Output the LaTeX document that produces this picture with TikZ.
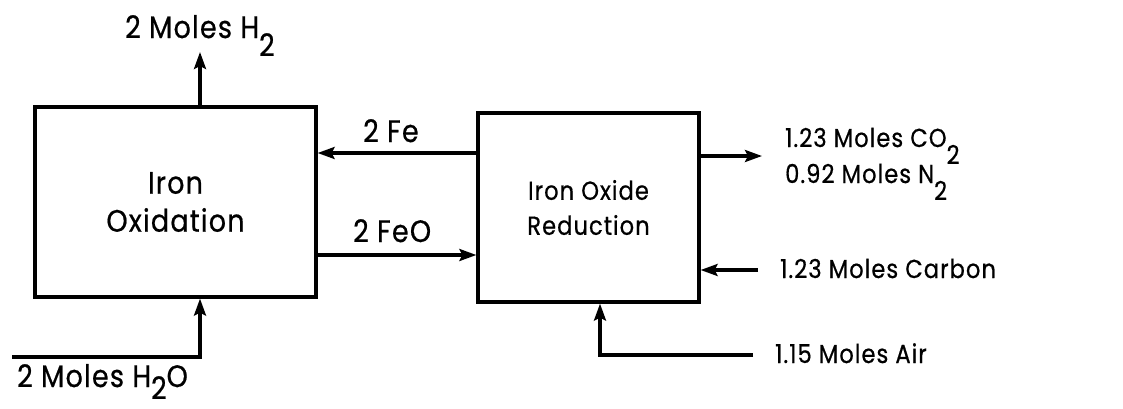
\documentclass[tikz,border=0pt]{standalone}
\usepackage{fontspec}
\setmainfont[LetterSpace=4, FakeBold=0.6, FakeStretch=0.87]{Poppins}
\usetikzlibrary{arrows.meta}
\newcommand{\mysub}[2]{\raisebox{-#1pt}{#2}}
\newcommand{\bigtxt}{\fontsize{31}{38}\selectfont}
\newcommand{\smtxt}{\fontsize{26}{35}\selectfont}
\tikzset{
  box/.style={draw, line width=3.2pt, inner sep=0pt, align=center},
  lbl/.style={inner sep=0pt, anchor=base west},
  flow/.style={line width=3.2pt},
  arr/.style={flow, -{Stealth[length=17pt,width=12pt,inset=3pt]}},
}
\begin{document}
\begin{tikzpicture}[x=1pt,y=-1pt]
\useasboundingbox (0,0) rectangle (1123,408);
% boxes
\node[box, font=\bigtxt, minimum width=281pt, minimum height=190pt] (ox) at (175.5,202) {Iron\\Oxidation};
\node[box, font=\smtxt, minimum width=221pt, minimum height=189pt] (red) at (588.5,207.5) {Iron Oxide\\Reduction};
% free ends
\coordinate (h2top) at (200,52);
\coordinate (h2oin) at (12,357);
\coordinate (outend) at (762,156);
\coordinate (cin) at (758,270);
\coordinate (airin) at (753,355);
% labels
\node[lbl, font=\bigtxt] (h2lbl) at (125,38) {2 Moles H\mysub{18}{2}};
\node[lbl, font=\bigtxt] (h2olbl) at (17,387) {2 Moles H\mysub{12}{2}O};
\node[lbl, font=\bigtxt] (felbl) at (363,142) {2 Fe};
\node[lbl, font=\bigtxt] (feolbl) at (353,242) {2 FeO};
\node[lbl, font=\smtxt] (co2lbl) at (785,147) {1.23 Moles CO\mysub{17}{2}};
\node[lbl, font=\smtxt] (n2lbl) at (785,183) {0.92 Moles N\mysub{17}{2}};
\node[lbl, font=\smtxt] (clbl) at (780,278) {1.23 Moles Carbon};
\node[lbl, font=\smtxt] (airlbl) at (775,363) {1.15 Moles Air};
% connectors
\draw[arr] (h2top |- ox.north) -- (h2top);
\draw[arr] (h2oin) -| (ox.south -| h2top);
\draw[arr] (red.west |- 0,153) -- (ox.east |- 0,153);
\draw[arr] (ox.east |- 0,255) -- (red.west |- 0,255);
\draw[arr] (red.east |- outend) -- (outend);
\draw[arr] (cin) -- (red.east |- cin);
\draw[arr] (airin) -| (red.south -| 600,0);
\end{tikzpicture}
\end{document}
